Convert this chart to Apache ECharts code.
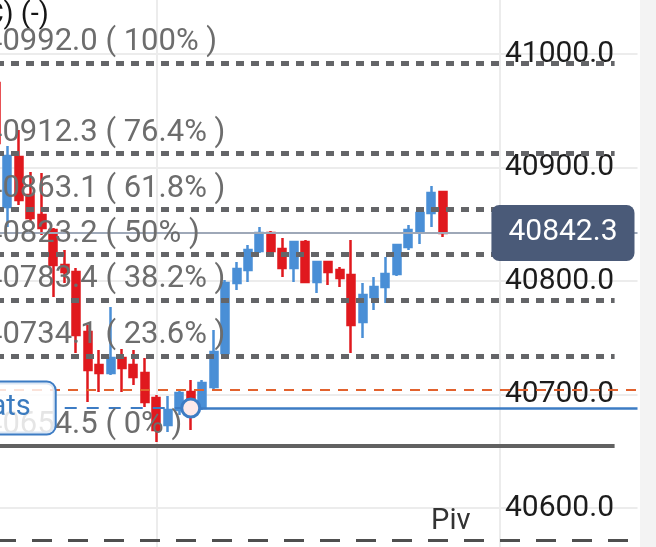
<!DOCTYPE html>
<html>
<head>
<meta charset="utf-8">
<script src="https://cdn.jsdelivr.net/npm/echarts@6/dist/echarts.min.js"></script>
<style>
  html, body { margin: 0; padding: 0; background: #fff; }
  #chart { width: 656px; height: 547px; }
</style>
</head>
<body>
<div id="chart"></div>
<script>
// candles, left to right (last one is the live bar)
const opens  = [40974.4, 40865.2, 40909.3, 40875.8, 40858.2, 40844.9, 40814.1, 40807.9, 40755.1, 40726.0,
                40719.0, 40732.2, 40726.0, 40719.0, 40696.9, 40673.1, 40686.3, 40702.2, 40688.1, 40706.6,
                40736.6, 40798.2, 40809.7, 40826.4, 40842.3, 40828.2, 40811.5, 40834.4, 40799.1, 40816.7,
                40809.7, 40805.3, 40763.9, 40785.9, 40794.7, 40806.2, 40830.0, 40844.0, 40859.9, 40878.4];
const closes = [40921.6, 40910.1, 40871.4, 40855.5, 40846.7, 40814.1, 40807.9, 40752.4, 40721.6, 40719.0,
                40732.2, 40723.3, 40715.4, 40693.4, 40668.7, 40686.3, 40701.3, 40692.5, 40710.1, 40737.4,
                40798.2, 40810.6, 40827.3, 40842.3, 40826.4, 40811.5, 40834.4, 40799.1, 40816.7, 40807.9,
                40802.6, 40761.2, 40787.7, 40794.7, 40806.2, 40831.7, 40844.9, 40859.9, 40877.5, 40842.3];
const lows   = [40915.4, 40847.6, 40867.0, 40852.0, 40840.5, 40785.9, 40798.2, 40736.6, 40693.4, 40702.2,
                40717.2, 40702.2, 40708.4, 40689.0, 40658.1, 40667.0, 40681.9, 40668.7, 40686.3, 40704.0,
                40734.8, 40792.1, 40799.1, 40824.7, 40824.7, 40803.5, 40799.1, 40798.2, 40789.4, 40796.5,
                40794.7, 40736.6, 40749.8, 40774.4, 40780.6, 40804.4, 40827.3, 40832.6, 40847.6, 40838.8];
const highs  = [40977.0, 40918.9, 40933.0, 40896.0, 40895.2, 40846.7, 40827.3, 40811.5, 40761.2, 40739.2,
                40777.1, 40740.1, 40739.2, 40732.2, 40699.6, 40698.7, 40704.0, 40712.8, 40712.8, 40756.8,
                40800.9, 40816.7, 40831.7, 40847.6, 40844.0, 40837.9, 40835.2, 40836.1, 40817.6, 40817.6,
                40812.3, 40836.1, 40798.2, 40803.5, 40821.1, 40832.6, 40849.3, 40864.3, 40883.7, 40879.3];

// time slots on the x axis (only the first 40 hold bars, the rest is empty space)
const slots = Array.from({ length: 57 }, (_, i) => 'b' + i);

// fibonacci retracement levels
const fibLevels = [40992.0, 40912.3, 40863.1, 40823.2, 40783.4, 40734.1, 40654.5];
const fibPcts   = ['100%', '76.4%', '61.8%', '50%', '38.2%', '23.6%', '0%'];

const lastPrice  = 40842.3;
const alertLevel = 40704.0;
const statsLevel = 40688.1;
const statsAnchor = 17;
const pivLevel   = 40571.8;

const candles = opens.map((o, i) => [o, closes[i], lows[i], highs[i]]);

const fibLines = fibLevels.map((v, i) => [
    {
        coord: [0, v],
        lineStyle: i === fibLevels.length - 1
            ? { color: '#616161', width: 4, type: 'solid' }
            : { color: '#646568', width: 5, type: [8, 7] },
        label: {
            show: true,
            position: 'insideStartTop',
            distance: [-11, 5],
            formatter: `${v.toFixed(1)} ( ${fibPcts[i]} )`,
            color: '#6d6d6d',
            fontSize: 31,
            fontFamily: 'Roboto'
        }
    },
    { coord: [54, v] }
]);

const chart = echarts.init(document.getElementById('chart'));

chart.setOption({
    animation: false,
    backgroundColor: '#fff',
    grid: {
        left: -4, right: 18.5, top: -59.5, bottom: -74.5,
        containLabel: false,
        outerBoundsMode: 'none'
    },
    xAxis: {
        type: 'category',
        data: slots,
        boundaryGap: false,
        axisLine: { show: false },
        axisTick: { show: false },
        axisLabel: { show: false },
        splitLine: {
            show: true,
            interval: (idx) => idx === 14 || idx === 44,
            lineStyle: { color: '#ececec', width: 2 }
        }
    },
    yAxis: {
        type: 'value',
        position: 'right',
        min: 40500,
        max: 41100,
        interval: 100,
        axisLine: { show: false },
        axisTick: { show: false },
        axisLabel: {
            inside: true,
            margin: 23.5,
            color: '#1c1c1c',
            fontSize: 30,
            fontFamily: 'Roboto',
            formatter: v => v.toFixed(1)
        },
        splitLine: { lineStyle: { color: '#ececec', width: 2 } }
    },
    graphic: [
        {
            type: 'rect',
            right: 0, top: 0,
            shape: { width: 16, height: 547 },
            style: { fill: '#f3f3f3' },
            z: -1
        },
        {
            type: 'text',
            left: -25, top: 1,
            style: { text: '(C) (-)', fill: '#161616', font: '29px Roboto' }
        }
    ],
    series: [
        {
            type: 'candlestick',
            data: candles,
            barWidth: 7.5,
            itemStyle: {
                color: '#4a8fd6',
                color0: '#e0191e',
                borderColor: '#4a8fd6',
                borderColor0: '#e0191e',
                borderWidth: 2.5
            },
            markLine: {
                silent: true,
                symbol: ['none', 'none'],
                animation: false,
                data: [
                    {
                        yAxis: pivLevel,
                        lineStyle: { color: '#4f4f4f', width: 3, type: [20, 16] },
                        label: {
                            show: true,
                            position: 'insideEndTop',
                            distance: [167, 4],
                            formatter: 'Piv',
                            color: '#333',
                            fontSize: 29,
                            fontFamily: 'Roboto'
                        }
                    },
                    ...fibLines,
                    {
                        yAxis: lastPrice,
                        lineStyle: { color: '#9ea8b8', width: 2, type: 'solid' },
                        label: {
                            show: true,
                            position: 'insideEnd',
                            distance: 3,
                            formatter: lastPrice.toFixed(1),
                            color: '#fff',
                            fontSize: 30,
                            fontFamily: 'Roboto',
                            backgroundColor: '#4a5a78',
                            borderRadius: 8,
                            padding: [10, 17],
                            lineHeight: 36
                        }
                    },
                    {
                        yAxis: alertLevel,
                        lineStyle: { color: '#e2622e', width: 2, type: [10, 8] },
                        label: { show: false }
                    },
                    [
                        {
                            coord: [6, statsLevel],
                            lineStyle: { color: '#3d7cc4', width: 2, type: [12, 10] },
                            label: {
                                show: true,
                                position: 'start',
                                distance: 10,
                                formatter: 'Stats',
                                color: '#3b7bbf',
                                fontSize: 29,
                                fontFamily: 'Roboto',
                                backgroundColor: 'rgba(255,255,255,0.82)',
                                borderColor: '#3d7cc4',
                                borderWidth: 2,
                                borderRadius: 8,
                                padding: [10, 24, 10, 14],
                                lineHeight: 31
                            }
                        },
                        { coord: [statsAnchor, statsLevel] }
                    ],
                    [
                        {
                            coord: [statsAnchor, statsLevel],
                            lineStyle: { color: '#3d7cc4', width: 2.5, type: 'solid' },
                            label: { show: false }
                        },
                        { coord: [56, statsLevel] }
                    ]
                ]
            }
        },
        {
            type: 'scatter',
            z: 5,
            silent: true,
            symbolSize: 18,
            data: [[statsAnchor, statsLevel]],
            itemStyle: { color: '#fde9ea', borderColor: '#3d7cc4', borderWidth: 3, opacity: 1 }
        }
    ]
});
</script>
</body>
</html>
